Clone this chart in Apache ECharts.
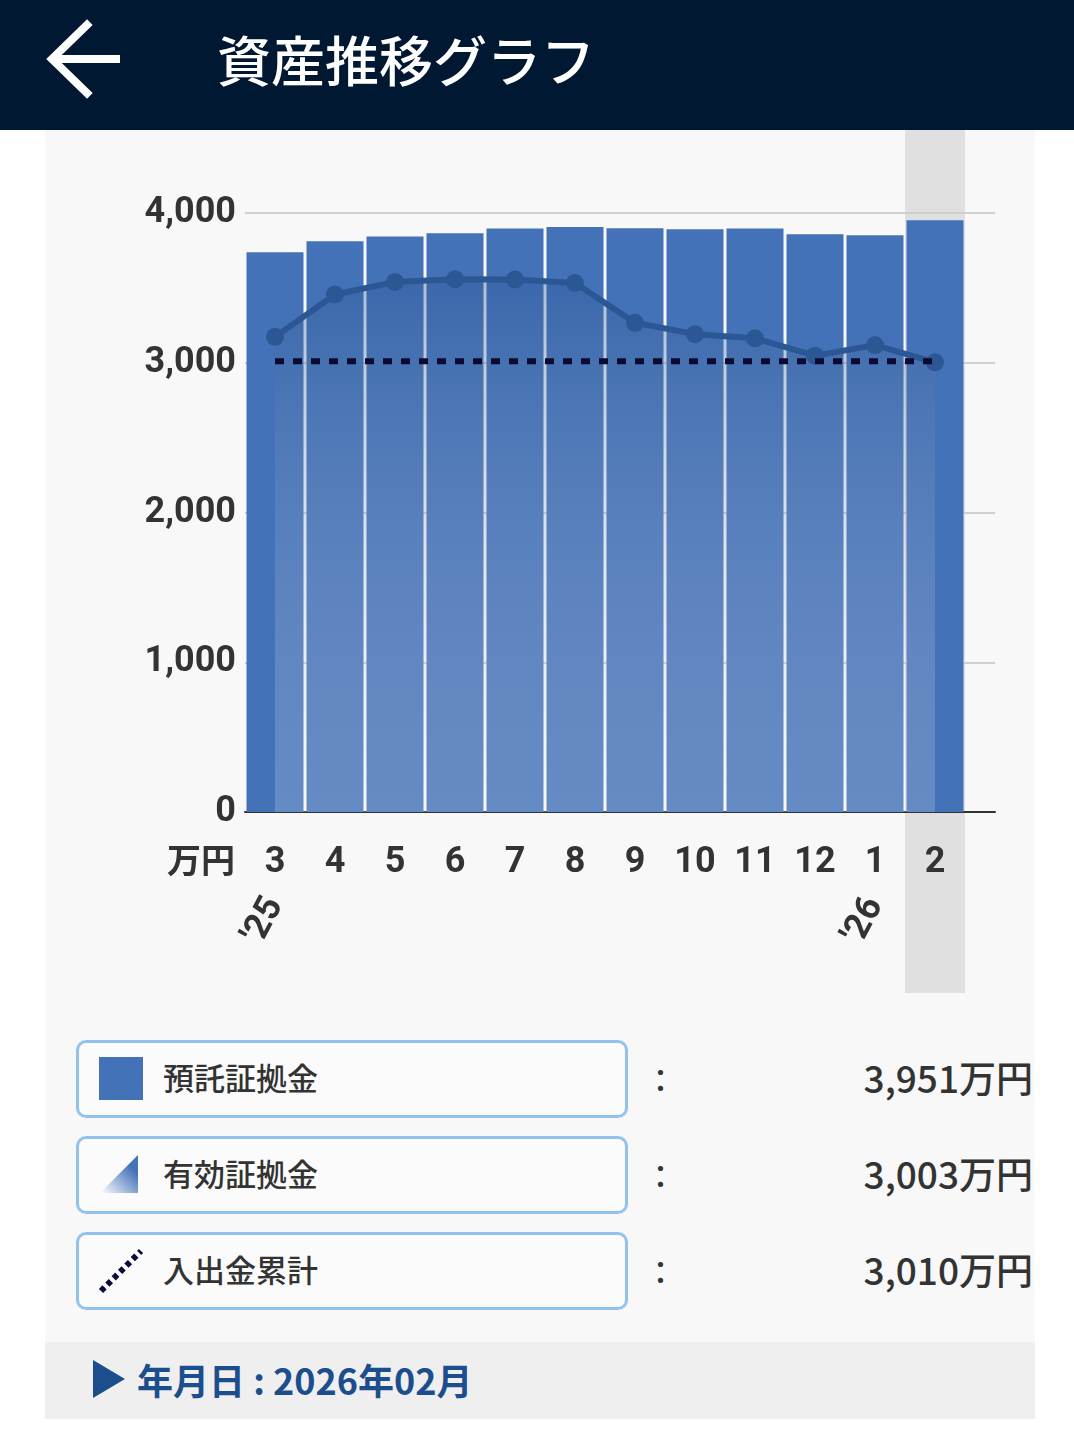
<!DOCTYPE html>
<html><head><meta charset="utf-8">
<script src="https://cdn.jsdelivr.net/npm/echarts@6/dist/echarts.min.js"></script>
<style>
html,body{margin:0;padding:0;background:#fff;width:1074px;height:1432px;overflow:hidden;font-family:"Noto Sans CJK JP","Noto Sans",sans-serif;}
#header{position:absolute;left:0;top:0;width:1074px;height:130px;background:#001831;}
#title{position:absolute;left:217px;top:21px;color:#fff;font-size:54px;font-weight:500;line-height:76px;white-space:nowrap;}
#panel{position:absolute;left:45px;top:130px;width:990px;height:1289px;background:#f8f8f8;}
#chart{position:absolute;left:0;top:0;width:1074px;height:1000px;}
.box{position:absolute;left:76px;width:546px;height:72px;border:3px solid #94c2ee;border-radius:10px;background:#fbfbfb;}
.lbl{position:absolute;left:163px;color:#333;font-size:31px;font-weight:500;line-height:40px;white-space:nowrap;}
.colon{position:absolute;left:645px;color:#333;font-size:31px;font-weight:500;line-height:40px;}
.val{position:absolute;right:41px;color:#333;font-size:37px;font-weight:500;line-height:46px;white-space:nowrap;text-align:right;}
#band{position:absolute;left:45px;top:1342px;width:990px;height:77px;background:#efefef;}
#date{position:absolute;left:137px;top:1356px;color:#1c4e8e;font-size:36px;font-weight:700;line-height:46px;white-space:nowrap;}
</style></head>
<body>
<div id="panel"></div>
<div id="band"></div>
<div id="header">
<svg width="140" height="130" style="position:absolute;left:0;top:0">
<polyline points="87,25 52,59 87,93" fill="none" stroke="#fff" stroke-width="8" stroke-linecap="square"/>
<line x1="54" y1="59" x2="120" y2="59" stroke="#fff" stroke-width="8"/>
</svg>
<div id="title">資産推移グラフ</div>
</div>
<div id="chart"></div>

<div class="box" style="top:1040px"></div>
<div style="position:absolute;left:99px;top:1057px;width:44px;height:43px;background:#4472b8"></div>
<div class="lbl" style="top:1057px">預託証拠金</div>
<div class="colon" style="top:1059px">：</div>
<div class="val" id="v1" style="top:1054px"></div>

<div class="box" style="top:1136px"></div>
<svg width="44" height="44" style="position:absolute;left:98px;top:1152px">
<defs><linearGradient id="tg" x1="0" y1="1" x2="1" y2="0"><stop offset="0" stop-color="#ffffff"/><stop offset="0.75" stop-color="#4472b8"/></linearGradient></defs>
<polygon points="2,41 40,41 40,3" fill="url(#tg)"/>
</svg>
<div class="lbl" style="top:1153px">有効証拠金</div>
<div class="colon" style="top:1155px">：</div>
<div class="val" id="v2" style="top:1150px"></div>

<div class="box" style="top:1232px"></div>
<svg width="48" height="48" style="position:absolute;left:96px;top:1248px">
<line x1="5" y1="43" x2="45" y2="3" stroke="#0b0b3b" stroke-width="6" stroke-dasharray="5,4"/>
</svg>
<div class="lbl" style="top:1249px">入出金累計</div>
<div class="colon" style="top:1251px">：</div>
<div class="val" id="v3" style="top:1246px"></div>

<svg width="40" height="44" style="position:absolute;left:92px;top:1358px"><polygon points="1,2 33,21 1,40" fill="#1c4e8e"/></svg>
<div id="date">年月日 : 2026年02月</div>

<script>
// ---- data ----
const months = ['3','4','5','6','7','8','9','10','11','12','1','2'];
const yearLabels = ["'25",'','','','','','','','','',"'26",''];
const depositMargin = [3738, 3811, 3843, 3865, 3896, 3907, 3898, 3891, 3896, 3858, 3851, 3951];
const effectiveMargin = [3173, 3456, 3540, 3558, 3556, 3533, 3267, 3191, 3163, 3047, 3118, 3003];
const cumulativeDeposits = [3010, 3010, 3010, 3010, 3010, 3010, 3010, 3010, 3010, 3010, 3010, 3010];
const selected = [0,0,0,0,0,0,0,0,0,0,0,1];
const yTicks = [0, 1000, 2000, 3000, 4000];

const fmt = v => v.toLocaleString('en-US');
document.getElementById('v1').textContent = fmt(depositMargin[depositMargin.length-1]) + '万円';
document.getElementById('v2').textContent = fmt(effectiveMargin[effectiveMargin.length-1]) + '万円';
document.getElementById('v3').textContent = fmt(cumulativeDeposits[cumulativeDeposits.length-1]) + '万円';

const NF = "'Roboto',sans-serif";
const FS = 36;
const chart = echarts.init(document.getElementById('chart'), null, {renderer:'canvas'});
chart.setOption({
  animation:false,
  backgroundColor:'transparent',
  grid:[
    {left:245, right:79, top:213, bottom:188},
    {left:245, right:109, top:213, bottom:188},
    {left:245, right:109, top:130, bottom:7}
  ],
  xAxis:[
    {gridIndex:0, type:'category', data:months, axisLine:{show:true, lineStyle:{color:'#333', width:2}}, axisTick:{show:false}, axisLabel:{show:false}},
    {gridIndex:1, type:'category', data:months, axisLine:{show:false}, axisTick:{show:false},
      axisLabel:{interval:0, margin:33, fontFamily:NF, fontWeight:'bold', fontSize:FS, color:'#333'}},
    {gridIndex:1, type:'category', data:yearLabels, position:'bottom', axisLine:{show:false}, axisTick:{show:false},
      axisLabel:{interval:0, rotate:62, margin:88, fontFamily:NF, fontWeight:'bold', fontSize:FS, color:'#333'}},
    {gridIndex:2, type:'category', data:months, show:false}
  ],
  yAxis:[
    {gridIndex:0, type:'value', min:yTicks[0], max:yTicks[yTicks.length-1], interval:1000,
      axisLine:{show:false}, axisTick:{show:false},
      splitLine:{show:true, lineStyle:{color:'#cfcfcf', width:2}},
      axisLabel:{margin:9, padding:[6,0,0,0], fontFamily:NF, fontWeight:'bold', fontSize:FS, color:'#333', formatter:v=>fmt(v)},
      name:'万円', nameLocation:'start', nameGap:48,
      nameTextStyle:{align:'right', verticalAlign:'middle', padding:[0,10,0,0], fontFamily:"'Noto Sans CJK JP'", fontWeight:'bold', fontSize:34, color:'#333'}},
    {gridIndex:1, type:'value', min:0, max:4000, show:false},
    {gridIndex:2, type:'value', min:0, max:1, show:false}
  ],
  series:[
    {name:'選択', type:'bar', xAxisIndex:3, yAxisIndex:2, data:selected, barWidth:'100%', z:-1, silent:true,
      itemStyle:{color:'#e0e0e0'}},
    {name:'預託証拠金', type:'bar', xAxisIndex:1, yAxisIndex:1, data:depositMargin, barCategoryGap:'5%',
      itemStyle:{color:'#4472b8'}, z:2},
    {name:'有効証拠金', type:'line', xAxisIndex:1, yAxisIndex:1, data:effectiveMargin, z:3,
      symbol:'circle', symbolSize:18, lineStyle:{color:'#2b5795', width:6}, itemStyle:{color:'#2b5795'},
      areaStyle:{color:new echarts.graphic.LinearGradient(0,0,0,1,[
        {offset:0, color:'rgba(42,86,148,0.5)'},
        {offset:1, color:'rgba(255,255,255,0.25)'}])}},
    {name:'入出金累計', type:'line', xAxisIndex:1, yAxisIndex:1, data:cumulativeDeposits, z:4,
      symbol:'none', lineStyle:{color:'#0a0a32', width:6, type:[9,9]}}
  ]
});
</script>
</body></html>
